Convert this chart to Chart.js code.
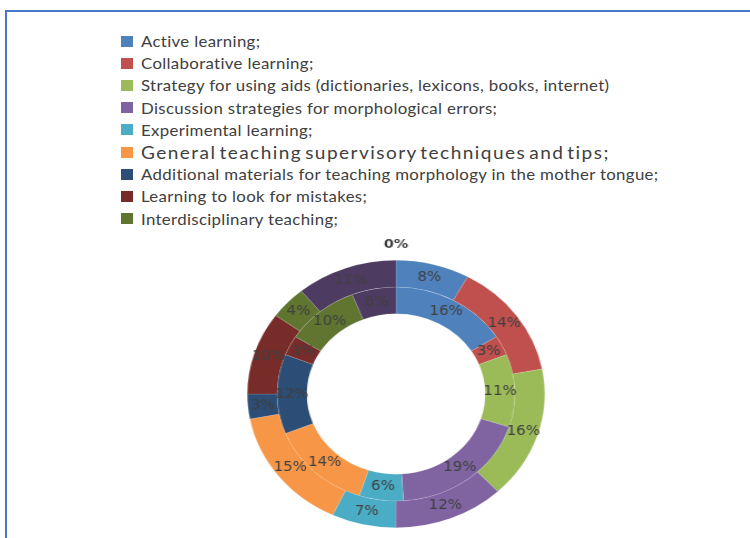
<!DOCTYPE html>
<html>
<head>
<meta charset="utf-8">
<script src="https://cdn.jsdelivr.net/npm/chart.js@4/dist/chart.umd.min.js"></script>
<style>
  html, body { margin: 0; padding: 0; background: #fff; }
  body { width: 750px; height: 538px; overflow: hidden; position: relative; }
  .frame {
    position: absolute; left: 5px; top: 10px; width: 760px; height: 540px;
    border-top: 2px solid #4a76c6; border-left: 2px solid #4a76c6;
  }
  #legend {
    position: absolute; left: 121px; top: 30px;
    font-family: Lato, "Open Sans", sans-serif; font-size: 15px; color: #404040;
  }
  #legend .item { height: 22.2px; display: flex; align-items: center; white-space: nowrap; }
  #legend .box { width: 12px; height: 11px; margin-right: 8px; flex: none; }
  #legend .txt { display: inline-block; transform: scaleX(1.12); transform-origin: left center; letter-spacing: 0.3px; }
  #legend .big { font-size: 17px; letter-spacing: 1.3px; word-spacing: -3px; }
  #donut {
    position: absolute; left: 226px; top: 224px;
    transform: scaleX(1.112); transform-origin: center center;
  }
</style>
</head>
<body>
<div class="frame"></div>
<div id="legend"></div>
<canvas id="donut" width="340" height="340"></canvas>
<script>
const categories = [
  "Active learning;",
  "Collaborative learning;",
  "Strategy for using aids (dictionaries, lexicons, books,  internet)",
  "Discussion strategies for morphological errors;",
  "Experimental learning;",
  "General teaching supervisory techniques and tips;",
  "Additional materials for teaching morphology in the mother tongue;",
  "Learning to look for mistakes;",
  "Interdisciplinary teaching;",
  "",
  ""
];
const outerValues = [8, 14, 16, 12, 7, 15, 3, 10, 4, 11, 0];
const innerValues = [16, 3, 11, 19, 6, 14, 12, 3, 10, 6];
const colors = [
  "#4f81bd", "#c0504d", "#9bbb59", "#8064a2", "#4bacc6",
  "#f79646", "#2c4d75", "#772c2a", "#5f7530", "#4d3b62", "#888888"
];
const legendCount = 9;

// legend list, one entry per line
const legendEl = document.getElementById("legend");
categories.slice(0, legendCount).forEach((name, i) => {
  const row = document.createElement("div");
  row.className = "item";
  const box = document.createElement("span");
  box.className = "box";
  box.style.background = colors[i];
  const txt = document.createElement("span");
  txt.textContent = name;
  txt.className = i === 5 ? "txt big" : "txt";
  row.appendChild(box);
  row.appendChild(txt);
  legendEl.appendChild(row);
});

// percentage labels in the middle of each arc; zero values go just outside the ring
const ringLabels = {
  id: "ringLabels",
  afterDatasetsDraw(chart) {
    const ctx = chart.ctx;
    ctx.save();
    ctx.textAlign = "center";
    ctx.textBaseline = "middle";
    ctx.fillStyle = "#404040";
    chart.data.datasets.forEach((ds, i) => {
      chart.getDatasetMeta(i).data.forEach((arc, j) => {
        const v = ds.data[j];
        if (v === 0) {
          const p = arc.getProps(["x", "y", "startAngle", "outerRadius"], true);
          const r = p.outerRadius + 16;
          ctx.font = "bold 13px 'DejaVu Sans'";
          ctx.fillText(v + "%", p.x + r * Math.cos(p.startAngle), p.y + r * Math.sin(p.startAngle));
        } else {
          const c = arc.getCenterPoint(true);
          ctx.font = "13.5px 'DejaVu Sans'";
          ctx.fillText(v + "%", c.x, c.y);
        }
      });
    });
    ctx.restore();
  }
};

new Chart(document.getElementById("donut"), {
  type: "doughnut",
  data: {
    labels: categories,
    datasets: [
      { data: outerValues, backgroundColor: colors, borderWidth: 0.5, borderColor: "rgba(255,255,255,0.25)" },
      { data: innerValues, backgroundColor: colors, borderWidth: 0.5, borderColor: "rgba(255,255,255,0.25)" }
    ]
  },
  options: {
    responsive: false,
    animation: false,
    cutout: "60%",
    layout: { padding: 36 },
    plugins: {
      legend: { display: false },
      tooltip: { enabled: false }
    }
  },
  plugins: [ringLabels]
});
</script>
</body>
</html>
